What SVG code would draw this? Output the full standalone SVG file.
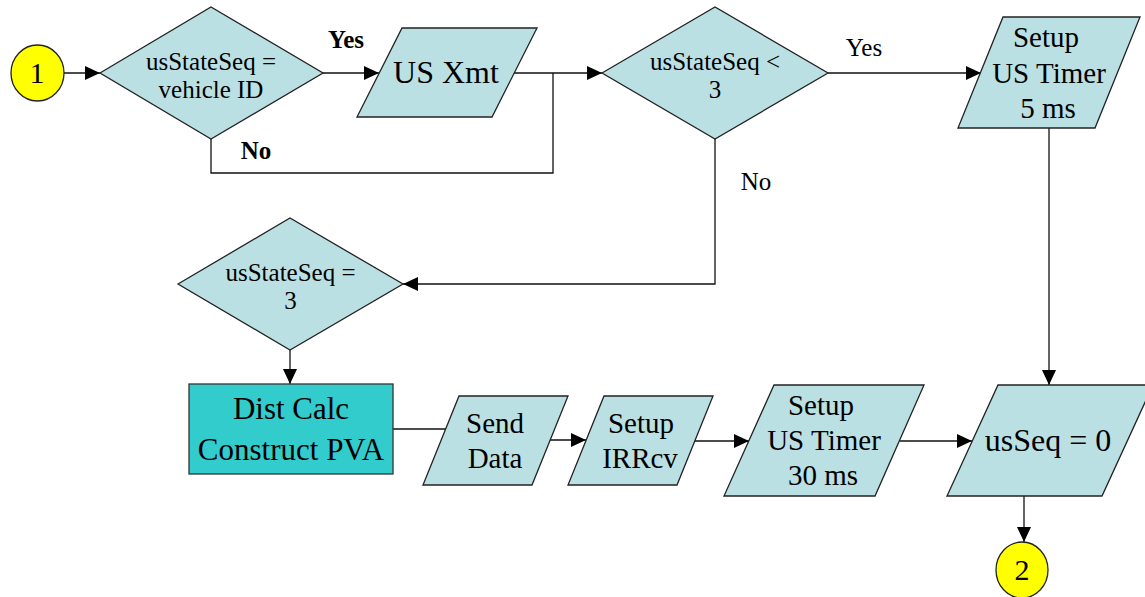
<svg xmlns="http://www.w3.org/2000/svg" width="1145" height="597" viewBox="0 0 1145 597">
  <style>
    .shape { fill: #BBE0E3; stroke: #222; stroke-width: 1.3; }
    .proc { fill: #33CCCC; stroke: #333; stroke-width: 1.3; }
    .conn { fill: #FFFF00; stroke: #222; stroke-width: 1.3; }
    .wire { fill: none; stroke: #111; stroke-width: 1.3; }
    text { font-family: "Liberation Serif", "Times New Roman", serif; fill: #000; text-anchor: middle; }
    .dec { font-size: 25px; }
    .io { font-size: 29px; }
    .big { font-size: 32px; }
    .lbl { font-size: 25px; }
    .lblb { font-size: 25px; font-weight: bold; }
  </style>
  <defs>
    <marker id="arrow" markerUnits="userSpaceOnUse" markerWidth="16" markerHeight="14" refX="15" refY="7" orient="auto">
      <path d="M0,0 L15,7 L0,14 z" fill="#000"/>
    </marker>
  </defs>

  <!-- connectors -->
  <g id="connectors">
    <path class="wire" d="M64,73 L100,73" marker-end="url(#arrow)"/>
    <path class="wire" d="M323,73 L379,73" marker-end="url(#arrow)"/>
    <path class="wire" d="M514,73 L602,73" marker-end="url(#arrow)"/>
    <path class="wire" d="M211,139 L211,173 L553,173 L553,73"/>
    <path class="wire" d="M828,73 L981,73" marker-end="url(#arrow)"/>
    <path class="wire" d="M1049,128 L1049,385" marker-end="url(#arrow)"/>
    <path class="wire" d="M715,139 L715,284 L403,284" marker-end="url(#arrow)"/>
    <path class="wire" d="M290,350 L290,384" marker-end="url(#arrow)"/>
    <path class="wire" d="M393,429 L446,429"/>
    <path class="wire" d="M550,440 L586,440" marker-end="url(#arrow)"/>
    <path class="wire" d="M695,441 L749,441" marker-end="url(#arrow)"/>
    <path class="wire" d="M900,441 L972,441" marker-end="url(#arrow)"/>
    <path class="wire" d="M1024,496 L1024,542" marker-end="url(#arrow)"/>
    <text class="lblb" x="346" y="48">Yes</text>
    <text class="lblb" x="256" y="159">No</text>
    <text class="lbl" x="864" y="56">Yes</text>
    <text class="lbl" x="756" y="190">No</text>
  </g>

  <g id="start">
    <ellipse class="conn" cx="37.5" cy="73" rx="26.5" ry="28"/>
    <text x="37" y="83" style="font-size:30px">1</text>
  </g>

  <g id="check-vehicle">
    <polygon class="shape" points="100,73 211,7 323,73 211,139"/>
    <text class="dec" x="211" y="70">usStateSeq =</text>
    <text class="dec" x="211" y="98">vehicle ID</text>
  </g>

  <g id="us-xmt">
    <polygon class="shape" points="402,28 537,28 492,117 357,117"/>
    <text class="big" x="446" y="83">US Xmt</text>
  </g>

  <g id="check-less">
    <polygon class="shape" points="602,73 715,7 828,73 715,139"/>
    <text class="dec" x="715" y="70">usStateSeq &lt;</text>
    <text class="dec" x="715" y="98">3</text>
  </g>

  <g id="timer-5ms">
    <polygon class="shape" points="1003,17 1140,17 1095,128 958,128"/>
    <text class="io" x="1046" y="47">Setup</text>
    <text class="io" x="1049" y="83">US Timer</text>
    <text class="io" x="1048" y="118">5 ms</text>
  </g>

  <g id="check-equal">
    <polygon class="shape" points="178,284 290,218 403,284 290,350"/>
    <text class="dec" x="290.5" y="281">usStateSeq =</text>
    <text class="dec" x="290.5" y="309">3</text>
  </g>

  <g id="dist-calc">
    <rect class="proc" x="189" y="384" width="204" height="90"/>
    <text x="291" y="419" style="font-size:31px">Dist Calc</text>
    <text x="291" y="460" style="font-size:31px">Construct PVA</text>
  </g>

  <g id="send-data">
    <polygon class="shape" points="459,396 568,396 532,485 423,485"/>
    <text class="io" x="495" y="433">Send</text>
    <text class="io" x="495" y="468">Data</text>
  </g>

  <g id="setup-irrcv">
    <polygon class="shape" points="604,396 713,396 677,485 568,485"/>
    <text class="io" x="641" y="433">Setup</text>
    <text class="io" x="640" y="468">IRRcv</text>
  </g>

  <g id="timer-30ms">
    <polygon class="shape" points="774,385 924,385 875,496 724,496"/>
    <text class="io" x="821" y="415">Setup</text>
    <text class="io" x="824" y="450">US Timer</text>
    <text class="io" x="823" y="485">30 ms</text>
  </g>

  <g id="reset-seq">
    <polygon class="shape" points="998,385 1153,385 1102,496 947,496"/>
    <text class="big" x="1048" y="451">usSeq = 0</text>
  </g>

  <g id="end">
    <ellipse class="conn" cx="1022" cy="570" rx="26" ry="28"/>
    <text x="1022" y="580" style="font-size:30px">2</text>
  </g>
</svg>
